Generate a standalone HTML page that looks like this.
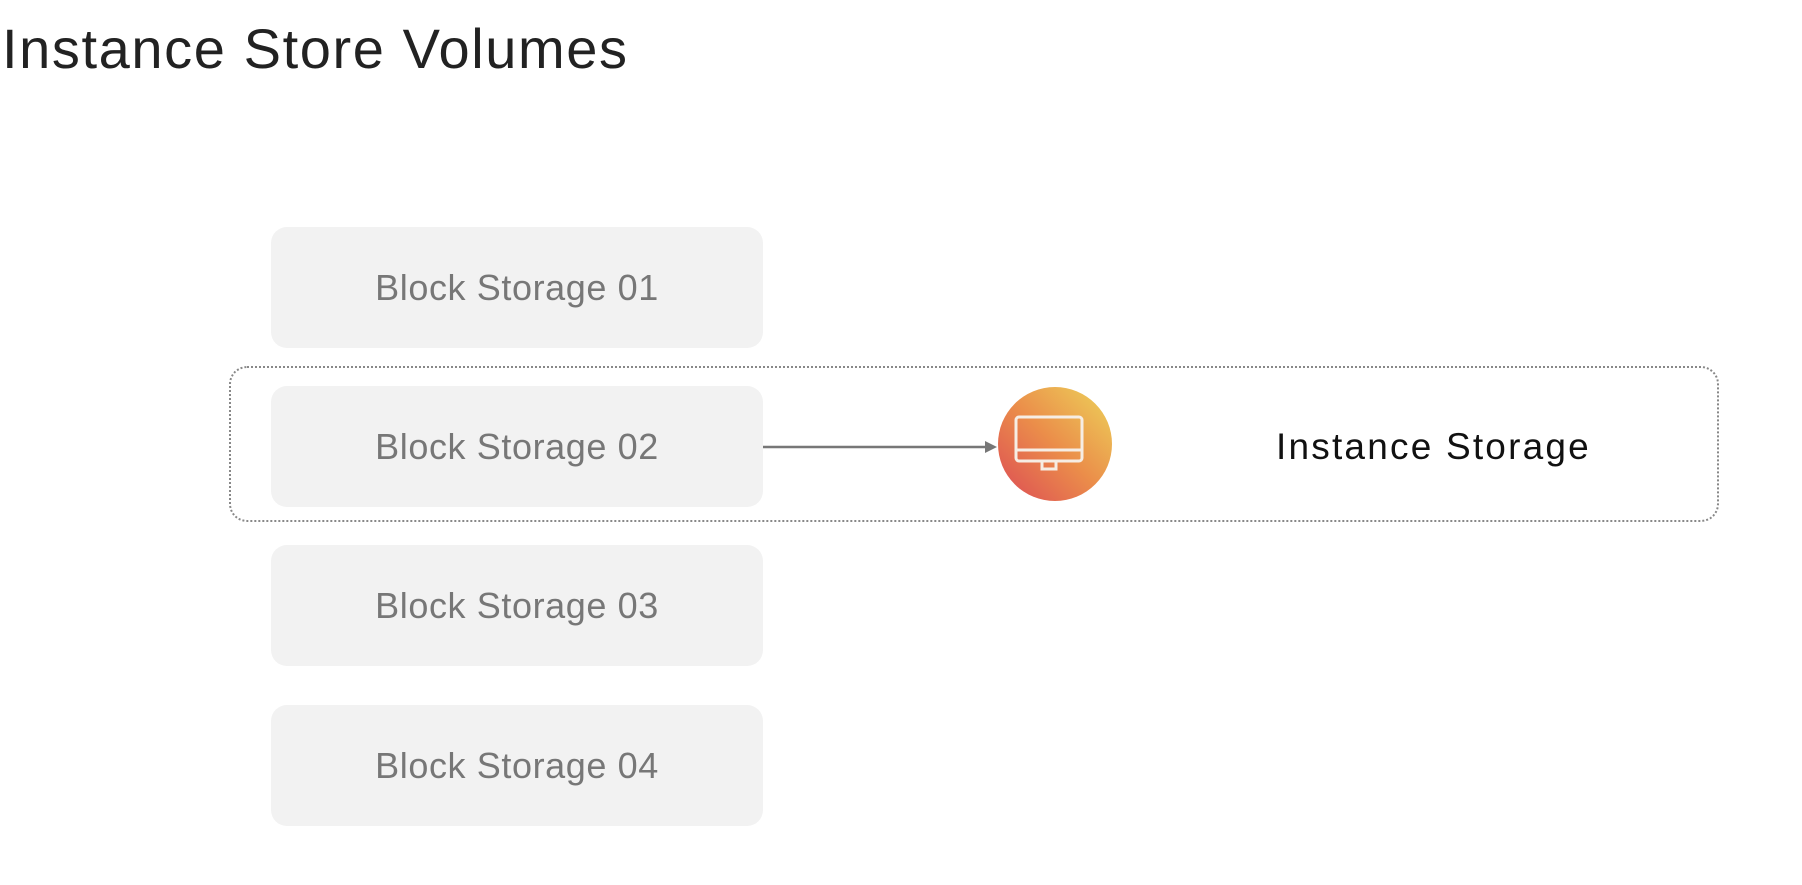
<!DOCTYPE html>
<html><head><meta charset="utf-8"><style>
html,body{margin:0;padding:0;background:#fff;}
body{width:1802px;height:885px;position:relative;overflow:hidden;font-family:"Liberation Sans",sans-serif;}
.t{position:absolute;white-space:nowrap;}
.box{position:absolute;left:271px;width:492px;height:121px;background:#f2f2f2;border-radius:16px;}
.bl{position:absolute;left:0;width:100%;text-align:center;top:0;line-height:121px;font-size:36px;color:#777;letter-spacing:0.6px;}
</style></head><body>
<div class="t" style="left:2px;top:14px;font-size:56px;color:#222;letter-spacing:1.6px;line-height:70px;">Instance Store Volumes</div>
<div style="position:absolute;left:229px;top:366px;width:1490px;height:156px;border:2px dotted #888;border-radius:18px;box-sizing:border-box;"></div>
<div class="box" style="top:227px;"><div class="bl">Block Storage 01</div></div>
<div class="box" style="top:386px;"><div class="bl">Block Storage 02</div></div>
<div class="box" style="top:545px;"><div class="bl">Block Storage 03</div></div>
<div class="box" style="top:705px;"><div class="bl">Block Storage 04</div></div>
<svg style="position:absolute;left:0;top:0" width="1802" height="885">
<defs><linearGradient id="g" x1="0" y1="1" x2="1" y2="0"><stop offset="0" stop-color="#dc4a55"/><stop offset="0.5" stop-color="#eb8e4a"/><stop offset="1" stop-color="#ecd45a"/></linearGradient></defs>
<line x1="763" y1="447" x2="988" y2="447" stroke="#777" stroke-width="2.5"/>
<polygon points="997,447 985,441 985,453" fill="#777"/>
<circle cx="1055" cy="444" r="57" fill="url(#g)"/>
<rect x="1016" y="417" width="66" height="44" rx="3" fill="none" stroke="#f6ede4" stroke-width="3"/>
<line x1="1016" y1="450" x2="1082" y2="450" stroke="#f6ede4" stroke-width="3"/>
<rect x="1042" y="461" width="14" height="8" fill="none" stroke="#f6ede4" stroke-width="3"/>
</svg>
<div class="t" style="left:1276px;top:424px;font-size:37px;color:#111;line-height:46px;letter-spacing:2.2px;">Instance Storage</div>
</body></html>
